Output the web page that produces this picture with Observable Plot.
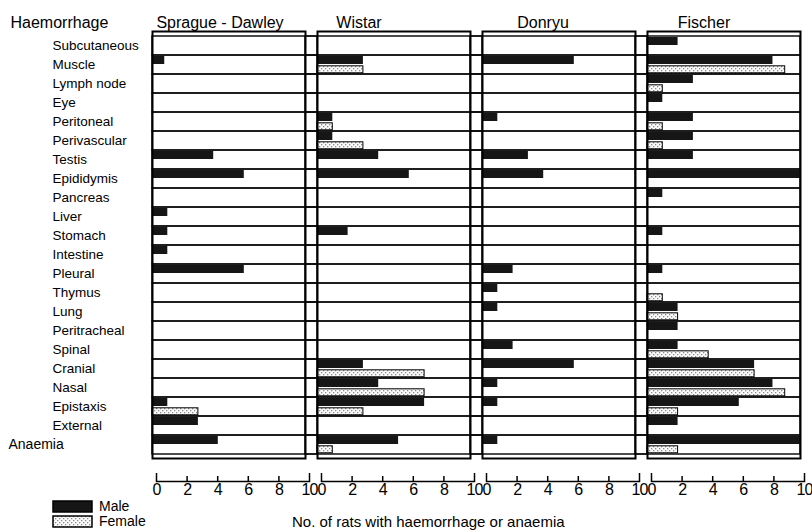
<!DOCTYPE html>
<html>
<head>
<meta charset="utf-8">
<script src="https://cdn.jsdelivr.net/npm/d3@7"></script>
<script src="https://cdn.jsdelivr.net/npm/@observablehq/plot@0.6"></script>
<style>
  body { margin: 0; background: #fff; font-family: "Liberation Sans", Arial, sans-serif; color: #000; }
  #chart { width: 812px; }
  #foot { position: relative; width: 812px; height: 26px; }
  #legend { position: absolute; left: 53px; top: -5px; }
  #legend svg rect { stroke: #000; stroke-width: 1.5px; }
  #legend [class$="-swatch"] { padding-bottom: 0; height: 15px; line-height: 15px; }
  #legend [class$="-swatches"] { margin: 0; }
  #xtitle { position: absolute; left: 292px; top: 9px; font-size: 15px; white-space: nowrap; }
  g[aria-label="x-axis tick label"] text { letter-spacing: -1px; }
</style>
</head>
<body>
<!-- stipple fill used for the female bars and their legend swatch -->
<svg width="0" height="0" style="position:absolute">
  <defs>
    <pattern id="stipple" width="4" height="4" patternUnits="userSpaceOnUse">
      <rect width="4" height="4" fill="#fbfbfb"></rect>
      <rect x="0" y="0" width="1.3" height="1.3" fill="#8a8a8a"></rect>
      <rect x="2" y="2" width="1.3" height="1.3" fill="#8a8a8a"></rect>
    </pattern>
  </defs>
</svg>
<div id="chart"></div>
<div id="foot">
  <div id="legend"></div>
  <div id="xtitle">No. of rats with haemorrhage or anaemia</div>
</div>
<script>
// Sites of haemorrhage (plus anaemia), top to bottom
const organs = [
  "Subcutaneous", "Muscle", "Lymph node", "Eye", "Peritoneal", "Perivascular",
  "Testis", "Epididymis", "Pancreas", "Liver", "Stomach", "Intestine",
  "Pleural", "Thymus", "Lung", "Peritracheal", "Spinal", "Cranial",
  "Nasal", "Epistaxis", "External", "Anaemia"
];
const strains = ["Sprague - Dawley", "Wistar", "Donryu", "Fischer"];
const sexes = ["Male", "Female"];
const xTicks = [0, 2, 4, 6, 8, 10];

// Number of rats per site, in the order of `organs`
const sdMale       = [0, 0.8, 0, 0, 0, 0, 4, 6, 0, 1, 1, 1, 6, 0, 0, 0, 0, 0, 0, 1, 3, 4.3];
const sdFemale     = [0, 0, 0, 0, 0, 0, 0, 0, 0, 0, 0, 0, 0, 0, 0, 0, 0, 0, 0, 3, 0, 0];
const wistarMale   = [0, 3, 0, 0, 1, 1, 4, 6, 0, 0, 2, 0, 0, 0, 0, 0, 0, 3, 4, 7, 0, 5.3];
const wistarFemale = [0, 3, 0, 0, 1, 3, 0, 0, 0, 0, 0, 0, 0, 0, 0, 0, 0, 7, 7, 3, 0, 1];
const donryuMale   = [0, 6, 0, 0, 1, 0, 3, 4, 0, 0, 0, 0, 2, 1, 1, 0, 2, 6, 1, 1, 0, 1];
const donryuFemale = [0, 0, 0, 0, 0, 0, 0, 0, 0, 0, 0, 0, 0, 0, 0, 0, 0, 0, 0, 0, 0, 0];
const fischerMale  = [2, 8.2, 3, 1, 3, 3, 3, 10, 1, 0, 1, 0, 1, 0, 2, 2, 2, 7, 8.2, 6, 2, 10];
const fischerFemale= [0, 9, 1, 0, 1, 1, 0, 0, 0, 0, 0, 0, 0, 1, 2, 0, 4, 7, 9, 2, 0, 2];

const series = [
  [strains[0], "Male", sdMale], [strains[0], "Female", sdFemale],
  [strains[1], "Male", wistarMale], [strains[1], "Female", wistarFemale],
  [strains[2], "Male", donryuMale], [strains[2], "Female", donryuFemale],
  [strains[3], "Male", fischerMale], [strains[3], "Female", fischerFemale]
];
const table = series.flatMap(([strain, sex, values]) =>
  values.map((value, i) => ({strain, sex, organ: organs[i], value})));
const bars = table.filter(d => d.value > 0);
const rows = strains.flatMap(strain => organs.map(organ => ({strain, organ})));

const xMin = xTicks[0], xMax = xTicks[xTicks.length - 1];
const first = strains[0], last = strains[strains.length - 1];

// layout
const W = 812, H = 504;
const mLeft = 152, mRight = 12, mTop = 31, frameBottom = 458;
const gap = 12;                                   // space between strain panels
const step = (W - mLeft - mRight + gap) / strains.length;
const panelWidth = step - gap;
const reach = gap * (xMax - xMin) / panelWidth;   // gap width in count units

// row boxes run through the gaps up to the neighbouring panel's border
const rowX1 = d => d.strain === first ? xMin : xMin - reach;
const rowX2 = d => d.strain === last ? xMax : xMax + reach;

// strain titles sit a little left of each panel's centre
const titleShift = [-9, -35, -16, -20];

const chart = Plot.plot({
  width: W,
  height: H,
  marginLeft: mLeft,
  marginRight: mRight,
  marginTop: mTop,
  marginBottom: H - frameBottom,
  style: {fontFamily: "'Liberation Sans', Arial, sans-serif", background: "#fff", color: "#000"},
  fx: {domain: strains, paddingInner: gap / step, paddingOuter: 0, label: null},
  x: {domain: [xMin, xMax], label: null},
  y: {domain: organs, padding: 0, label: null},
  color: {type: "ordinal", domain: sexes, range: ["#161616", "url(#stipple)"]},
  marks: [
    Plot.barX(rows, {fx: "strain", y: "organ", x1: rowX1, x2: rowX2,
      fill: "none", stroke: "#111", strokeWidth: 1.5}),

    // male bars in the upper half of each row, female in the lower half
    Plot.barX(bars.filter(d => d.sex === "Male"),
      {fx: "strain", y: "organ", x: "value", fill: "sex", insetTop: 1, insetBottom: 10}),
    Plot.barX(bars.filter(d => d.sex === "Female"),
      {fx: "strain", y: "organ", x: "value", fill: "sex", stroke: "#000", strokeWidth: 1, insetTop: 10.8, insetBottom: 1.2}),

    Plot.frame({stroke: "#000", strokeWidth: 2}),

    // strain titles
    ...strains.map((s, i) => Plot.axisFx({ticks: [s], anchor: "top", tickSize: 0, tickPadding: 4,
      fontSize: 16, dx: titleShift[i], label: null})),

    // site labels
    Plot.axisY({ticks: organs.slice(0, -1), anchor: "left", tickSize: 0, tickPadding: 0,
      textAnchor: "start", dx: -100, fontSize: 13.5, label: null}),
    Plot.axisY({ticks: organs.slice(-1), anchor: "left", tickSize: 0, tickPadding: 0,
      textAnchor: "start", dx: -144, fontSize: 14, label: null}),
    Plot.text([{strain: first, label: "Haemorrhage"}],
      {fx: "strain", text: "label", frameAnchor: "top-left", textAnchor: "start", lineAnchor: "bottom",
       dx: -142, dy: -4, fontSize: 16}),

    // bracket-style count axis under each panel
    Plot.frame({anchor: "bottom", dy: 23, dx: 4, stroke: "#000", strokeWidth: 1.5}),
    Plot.axisX({ticks: xTicks.slice(1, -1), tickSize: 5, dy: 18, dx: 4, fill: "none", strokeWidth: 1.5, label: null}),
    Plot.axisX({ticks: [xMin, xMax], tickSize: 8, dy: 15, dx: 4, fill: "none", strokeWidth: 1.5, label: null}),
    Plot.axisX({ticks: xTicks, tickSize: 0, tickPadding: 25, dx: 4, fontSize: 16, label: null})
  ]
});

document.getElementById("chart").append(chart);

document.getElementById("legend").append(
  chart.legend("color", {
    columns: 1,
    swatchWidth: 39,
    swatchHeight: 11,
    style: {fontSize: "14px", fontFamily: "'Liberation Sans', Arial, sans-serif", lineHeight: "15px"}
  })
);
</script>
</body>
</html>
